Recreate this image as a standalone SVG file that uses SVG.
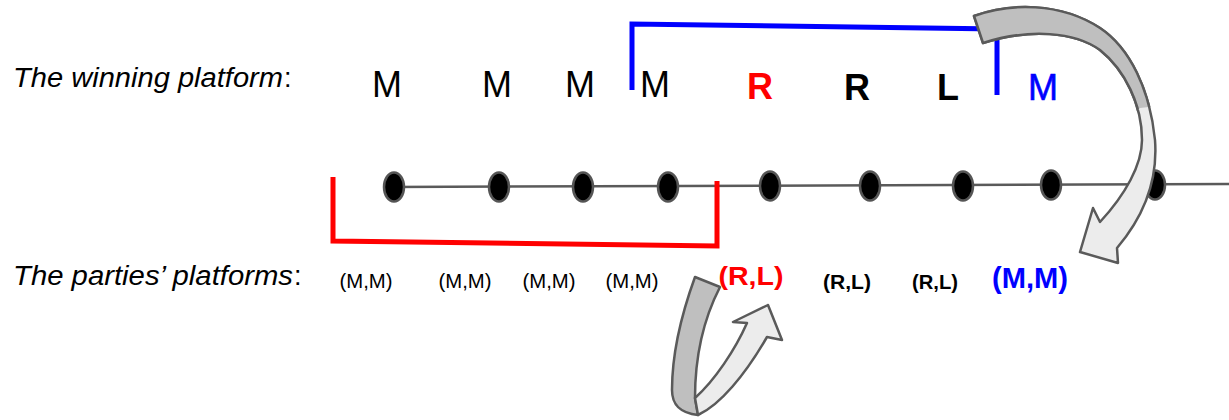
<svg xmlns="http://www.w3.org/2000/svg" width="1229" height="420" viewBox="0 0 1229 420">
<style>
text{font-family:"Liberation Sans",Arial,sans-serif;}
.lbl{font-size:27px;font-style:italic;fill:#000;}
.col{font-size:27px;fill:#000;}
.top{font-size:36px;text-anchor:middle;}
.b{font-weight:bold;}
.small{font-size:20px;text-anchor:middle;fill:#000;}
.dot{fill:#000;stroke:#555;stroke-width:2.5;}
.arr{stroke:#5a5a5a;stroke-width:2.5;stroke-linejoin:round;}
</style>
<defs>
<path id="bigArrow" d="M974,16 C1010,3 1060,2 1100,28 C1130,48 1150,90 1155,140 C1158,180 1145,215 1117,248 L1118,263 L1080,252 L1093,208 L1100,222 C1125,195 1142,165 1142,140 C1142,105 1125,70 1100,50 C1075,32 1030,28 983,43 Z"/>
<clipPath id="topPart"><polygon points="940,0 1229,0 1229,98 1140,108 1120,125 940,125"/></clipPath>
</defs>
<rect width="1229" height="420" fill="#fff"/>
<g id="labels">
<text class="lbl" x="13" y="87" textLength="270" lengthAdjust="spacingAndGlyphs">The winning platform</text>
<text class="col" x="284" y="87">:</text>
<text class="lbl" x="13" y="285" textLength="280" lengthAdjust="spacingAndGlyphs">The parties’ platforms</text>
<text class="col" x="294" y="285">:</text>
</g>
<g id="connectors">
<line x1="390" y1="187" x2="1229" y2="184" stroke="#5a5a5a" stroke-width="2.5"/>
<polyline points="333,177 333,241 717,246 717,181" fill="none" stroke="#ff0000" stroke-width="5"/>
<polyline points="632,90 632,24 997,29 997,95" fill="none" stroke="#0000ff" stroke-width="5"/>
</g>
<g id="dots">
<ellipse class="dot" cx="394" cy="187" rx="10" ry="14.5"/>
<ellipse class="dot" cx="499" cy="187" rx="10" ry="14.5"/>
<ellipse class="dot" cx="583" cy="187" rx="10" ry="14.5"/>
<ellipse class="dot" cx="668" cy="187" rx="10" ry="14.5"/>
<ellipse class="dot" cx="770" cy="186" rx="10" ry="14.5"/>
<ellipse class="dot" cx="870" cy="186" rx="10" ry="14.5"/>
<ellipse class="dot" cx="963" cy="186" rx="10" ry="14.5"/>
<ellipse class="dot" cx="1051" cy="185" rx="10" ry="14.5"/>
<ellipse class="dot" cx="1155" cy="185" rx="10" ry="14.5"/>
</g>
<g id="winning">
<text class="top" x="387" y="97">M</text>
<text class="top" x="497" y="97">M</text>
<text class="top" x="580" y="97">M</text>
<text class="top" x="655" y="97">M</text>
<text class="top b" x="760" y="99" fill="#ff0000">R</text>
<text class="top b" x="857" y="100">R</text>
<text class="top b" x="948" y="100">L</text>
<text class="top" x="1043" y="100" fill="#0000ff" stroke="#0000ff" stroke-width="0.6">M</text>
</g>
<g id="parties">
<text class="small" x="366" y="288" textLength="53" lengthAdjust="spacingAndGlyphs">(M,M)</text>
<text class="small" x="465" y="288" textLength="53" lengthAdjust="spacingAndGlyphs">(M,M)</text>
<text class="small" x="549" y="288" textLength="53" lengthAdjust="spacingAndGlyphs">(M,M)</text>
<text class="small" x="632" y="288" textLength="53" lengthAdjust="spacingAndGlyphs">(M,M)</text>
<text class="b" x="751" y="285" font-size="26" text-anchor="middle" fill="#ff0000" textLength="65" lengthAdjust="spacingAndGlyphs">(R,L)</text>
<text class="b" x="847" y="289" font-size="21" text-anchor="middle" textLength="48" lengthAdjust="spacingAndGlyphs">(R,L)</text>
<text class="b" x="935" y="289" font-size="21" text-anchor="middle" textLength="46" lengthAdjust="spacingAndGlyphs">(R,L)</text>
<text class="b" x="1030" y="288" font-size="29" text-anchor="middle" fill="#0000ff" textLength="76" lengthAdjust="spacingAndGlyphs">(M,M)</text>
</g>
<g id="arrow-top">
<use href="#bigArrow" class="arr" fill="#ececec"/>
<use href="#bigArrow" class="arr" fill="#bfbfbf" clip-path="url(#topPart)"/>
</g>
<g id="arrow-bottom">
<path class="arr" fill="#bfbfbf" d="M695,277 C683,310 672,350 672,390 C672,405 680,413 698,415 L695,398 C695,360 703,320 720,287 Z"/>
<path class="arr" fill="#ececec" d="M698,415 C720,405 745,375 767,337 L782,340 L768,305 L733,322 L747,323 C735,350 715,380 695,398 Z"/>
</g>
</svg>
